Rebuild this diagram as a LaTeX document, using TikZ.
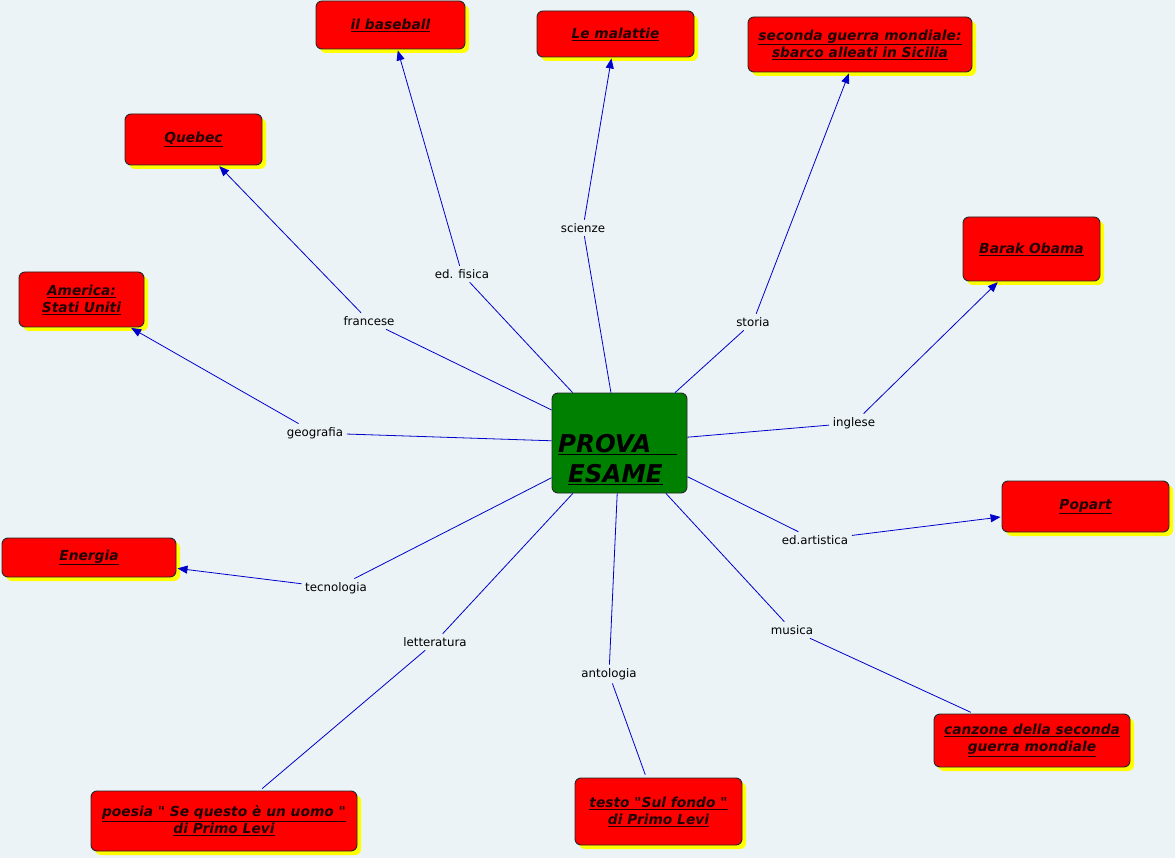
\documentclass[tikz,border=0pt]{standalone}
\usepackage{fontspec}
\setmainfont{DejaVu Sans}[Ligatures=TeXOff]
\usetikzlibrary{shadows,arrows.meta}
\definecolor{bgc}{HTML}{EBF3F6}
\definecolor{boxred}{HTML}{FF0000}
\definecolor{boxgreen}{HTML}{008000}
\definecolor{linec}{HTML}{0000CC}
\definecolor{shadowy}{HTML}{FFFF00}
\definecolor{txtc}{HTML}{200000}
\tikzset{
  topic/.style={draw=black!85, line width=0.9pt, fill=boxred, rounded corners=6pt,
    minimum width=#1, inner sep=0pt, align=center, text=txtc,
    font=\fontsize{13.8}{17}\selectfont\bfseries\itshape,
    drop shadow={shadow xshift=4pt, shadow yshift=-4pt, fill=shadowy, opacity=1}},
  lbl/.style={inner sep=3.5pt, font=\fontsize{11.8}{13}\selectfont, text=black},
  link/.style={draw=linec, line width=0.8pt},
  arr/.style={link, -{Triangle[length=10pt,width=8pt]}, shorten >=1pt},
}
\newcommand{\ul}[1]{\underline{#1}}
\begin{document}
\begin{tikzpicture}[x=1pt,y=-1pt]
\fill[bgc] (0,0) rectangle (1175,858);
\useasboundingbox (0,0) rectangle (1175,858);

% center
\node[draw=black!85, line width=0.9pt, fill=boxgreen, rounded corners=6pt,
  minimum width=135pt, minimum height=100pt, inner sep=0pt] (c) at (619.5,443) {};
\node[align=left, inner sep=0pt, font=\fontsize{24.5}{30}\selectfont\bfseries\itshape, anchor=west] (ct) at (558,460)
  {\ul{PROVA\ \ \ }\\[0pt]\hspace*{10pt}\ul{ESAME}};

% topic boxes
\node[topic=149pt, minimum height=48pt] (base) at (390.5,25) {\ul{il baseball}};
\node[topic=157pt, minimum height=46pt] (mal) at (615.5,34) {\ul{Le malattie}};
\node[topic=224pt, minimum height=55pt] (guer) at (860,44.5) {\ul{seconda guerra mondiale:}\\\ul{sbarco alleati in Sicilia}};
\node[topic=137pt, minimum height=51pt] (queb) at (193.5,139.5) {\ul{Quebec}};
\node[topic=137pt, minimum height=64pt] (obama) at (1031.5,249) {\ul{Barak Obama}};
\node[topic=125pt, minimum height=55pt] (amer) at (81.5,299.5) {\ul{America:}\\\ul{Stati Uniti}};
\node[topic=167pt, minimum height=51pt] (pop) at (1085.5,506.5) {\ul{Popart}};
\node[topic=174pt, minimum height=39pt] (ener) at (89,557.5) {\ul{Energia}};
\node[topic=196pt, minimum height=53pt] (canz) at (1032,740.5) {\ul{canzone della seconda}\\\ul{guerra mondiale}};
\node[topic=167pt, minimum height=67pt] (testo) at (658.5,811.5) {\ul{testo "Sul fondo "}\\\ul{di Primo Levi}};
\node[topic=266pt, minimum height=60pt] (poes) at (224,821) {\ul{poesia " Se questo è un uomo "}\\\ul{di Primo Levi}};

% labels
\node[lbl] (lfr) at (369,321) {francese};
\node[lbl] (led) at (462,274) {ed. fisica};
\node[lbl] (lsc) at (583,228) {scienze};
\node[lbl] (lst) at (753,322) {storia};
\node[lbl] (lge) at (315,433) {geografia};
\node[lbl] (lin) at (854,423) {inglese};
\node[lbl] (lar) at (815,540) {ed.artistica};
\node[lbl] (lte) at (336,588) {tecnologia};
\node[lbl] (llet) at (435,642) {letteratura};
\node[lbl] (lan) at (609,674) {antologia};
\node[lbl] (lmu) at (792,630) {musica};

% connectors
\draw[link] (c) -- (lfr);  \draw[arr] (lfr) -- (queb);
\draw[link] (c) -- (led);  \draw[arr] (led) -- (base);
\draw[link] (c) -- (lsc);  \draw[arr] (lsc) -- (mal);
\draw[link] (c) -- (lst);  \draw[arr] (lst) -- (guer);
\draw[link] (c) -- (lge);  \draw[arr] (lge) -- (amer);
\draw[link] (c) -- (lin);  \draw[arr] (lin) -- (obama);
\draw[link] (c) -- (lar);  \draw[arr] (lar) -- (pop);
\draw[link] (c) -- (lte);  \draw[arr] (lte) -- (ener);
\draw[link] (c) -- (llet); \draw[link, shorten >=3pt] (llet) -- (poes);
\draw[link] (c) -- (lan);  \draw[link, shorten >=3pt] (lan) -- (testo);
\draw[link] (c) -- (lmu);  \draw[link, shorten >=3pt] (lmu) -- (canz);
\end{tikzpicture}
\end{document}
